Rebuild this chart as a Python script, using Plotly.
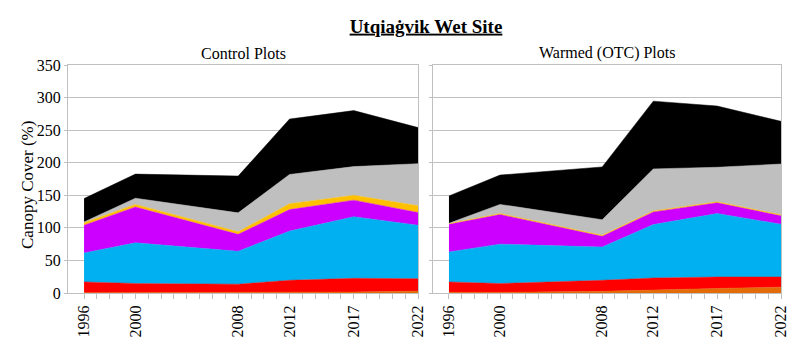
import plotly.graph_objects as go
from plotly.subplots import make_subplots

# Survey years
years = [1996, 2000, 2008, 2012, 2017, 2022]

# Canopy cover (%) by plant group, stacked bottom to top
groups = ["Evergreen shrubs", "Deciduous shrubs", "Graminoids", "Forbs",
          "Lichens", "Bryophytes", "Litter"]
colors = ["#E36C09", "#FF0000", "#00B0F0", "#CC00FF", "#FFC000", "#BFBFBF", "#000000"]

control = {
    "Evergreen shrubs": [0.5, 0.5, 0.5, 1.0, 1.5, 3.0],
    "Deciduous shrubs": [16.5, 14.0, 13.0, 18.5, 21.0, 19.0],
    "Graminoids":       [44.5, 62.5, 50.5, 75.5, 94.5, 82.0],
    "Forbs":            [42.5, 55.0, 26.0, 33.0, 25.5, 19.5],
    "Lichens":          [4.0, 4.0, 4.0, 9.0, 7.5, 10.5],
    "Bryophytes":       [1.0, 9.5, 29.0, 45.0, 44.0, 64.5],
    "Litter":           [36.0, 37.0, 56.5, 85.0, 86.0, 55.5],
}
warmed = {
    "Evergreen shrubs": [1.0, 1.0, 2.5, 4.0, 7.0, 9.0],
    "Deciduous shrubs": [16.0, 13.5, 17.0, 19.0, 17.5, 15.5],
    "Graminoids":       [46.0, 60.5, 51.0, 82.0, 97.5, 81.0],
    "Forbs":            [42.5, 45.5, 16.5, 19.5, 16.5, 13.0],
    "Lichens":          [1.0, 1.5, 1.5, 1.5, 1.5, 1.5],
    "Bryophytes":       [0.5, 14.0, 24.0, 64.5, 53.0, 78.0],
    "Litter":           [42.0, 45.0, 81.0, 104.0, 94.0, 65.5],
}

panel_titles = ["Control Plots", "Warmed (OTC) Plots"]
title_text = "Utqiaġvik Wet Site"
y_title = "Canopy Cover (%)"

FONT = "Liberation Serif"
GRID = "#C0C0C0"

fig = make_subplots(rows=1, cols=2, shared_yaxes=False, horizontal_spacing=0.02)

for col, data in enumerate([control, warmed], start=1):
    for name, color in zip(groups, colors):
        fig.add_trace(
            go.Scatter(
                x=years, y=data[name], name=name,
                stackgroup=f"s{col}", mode="lines",
                line=dict(width=0.5, color=color),
                fillcolor=color, showlegend=False,
            ),
            row=1, col=col,
        )

all_years = list(range(1996, 2023))
tick_text = [str(y) if y in years else "" for y in all_years]

W, H = 796, 344
ml, mr, mt, mb = 68, 15, 65, 51
pw = W - ml - mr
ph = H - mt - mb
left_dom = [0, (418 - ml) / pw]
right_dom = [(433 - ml) / pw, 1]

xaxis_common = dict(
    range=[1994.75, 2022], tickmode="array", tickvals=all_years, ticktext=tick_text,
    tickangle=-90, ticks="outside", ticklen=5, tickcolor=GRID, automargin=False,
    showgrid=False, showline=True, linecolor=GRID, mirror=True, zeroline=False,
    tickfont=dict(family=FONT, size=16, color="black"),
)
yaxis_common = dict(
    range=[0, 350], dtick=50, ticks="outside", ticklen=3, tickcolor=GRID,
    showgrid=True, gridcolor=GRID, gridwidth=1, showline=True, linecolor=GRID,
    mirror=True, zeroline=False, automargin=False,
    tickfont=dict(family=FONT, size=16, color="black"),
)

fig.update_layout(
    width=W, height=H,
    margin=dict(l=ml, r=mr, t=mt, b=mb),
    paper_bgcolor="white", plot_bgcolor="white",
    xaxis=dict(domain=left_dom, **xaxis_common),
    xaxis2=dict(domain=right_dom, **xaxis_common),
    yaxis=dict(**yaxis_common),
    yaxis2=dict(showticklabels=False, **yaxis_common),
    title=dict(
        text=f"<b><u>{title_text}</u></b>", x=426 / W, xanchor="center",
        y=1 - 26 / H, yanchor="middle",
        font=dict(family=FONT, size=19, color="black"),
    ),
    font=dict(family=FONT, color="black"),
)

# Panel headings and the shared y-axis title
fig.layout.annotations = []
for dom, txt in zip([left_dom, right_dom], panel_titles):
    fig.add_annotation(
        text=txt, xref="paper", yref="paper",
        x=(dom[0] + dom[1]) / 2, y=1 + (65 - 53) / ph,
        xanchor="center", yanchor="middle", showarrow=False,
        font=dict(family=FONT, size=16, color="black"),
    )
fig.add_annotation(
    text=y_title, xref="paper", yref="paper",
    x=(27 - ml) / pw, y=(293 - 185) / ph,
    xanchor="center", yanchor="middle", textangle=-90, showarrow=False,
    font=dict(family=FONT, size=17, color="black"),
)

fig.write_html("out.html")
